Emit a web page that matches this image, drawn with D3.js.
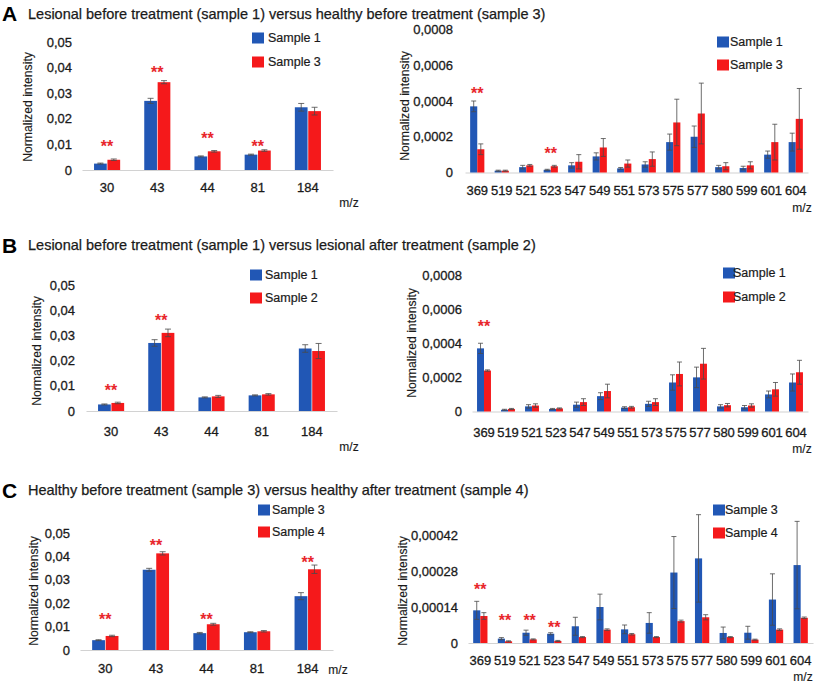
<!DOCTYPE html>
<html><head><meta charset="utf-8">
<script src="https://cdn.jsdelivr.net/npm/d3@7"></script>
<style>
body{margin:0;background:#fff}
svg{display:block}
text{font-family:"Liberation Sans",Arial,Helvetica,sans-serif;fill:#1a1a1a}
.thick{stroke:#1a1a1a;stroke-width:0.3px}
</style>
</head><body>
<svg id="chart" width="817" height="684"></svg>
<script>
// ---------------- DATA ----------------
const leftCategories = ["30","43","44","81","184"];
const rightCategories = ["369","519","521","523","547","549","551","573","575","577","580","599","601","604"];

const leftTickValues = [0,0.01,0.02,0.03,0.04,0.05];
const leftTickLabels = ["0","0,01","0,02","0,03","0,04","0,05"];
const rightTickValues = [0,0.0002,0.0004,0.0006,0.0008];
const rightTickLabels = ["0","0,0002","0,0004","0,0006","0,0008"];
const rightCTickValues = [0,0.00014,0.00028,0.00042];
const rightCTickLabels = ["0","0,00014","0,00028","0,00042"];

const titles = [
  "Lesional before treatment (sample 1) versus healthy before treatment (sample 3)",
  "Lesional before treatment (sample 1) versus lesional after treatment (sample 2)",
  "Healthy before treatment (sample 3) versus healthy after treatment (sample 4)"
];
const panelLetters = ["A","B","C"];
const legendA = ["Sample 1","Sample 3"];
const legendB = ["Sample 1","Sample 2"];
const legendC = ["Sample 3","Sample 4"];

// Panel A left
const aLeftS1 = [0.0025,0.027,0.0053,0.006,0.0245];
const aLeftS1Err = [0.0002,0.001,0.0002,0.0002,0.0015];
const aLeftS3 = [0.004,0.0343,0.0073,0.0076,0.023];
const aLeftS3Err = [0.0003,0.0006,0.0003,0.0003,0.0015];
const aLeftSig = [0.0105,0.0395,0.0135,0.0105,null];
// Panel A right
const aRightS1 = [0.00037,0.00001,0.00003,0.000015,0.00004,0.00009,0.000023,0.000045,0.00017,0.0002,0.00003,0.000025,0.0001,0.00017];
const aRightS1Err = [0.00003,0.000003,0.00001,0.000003,0.000015,0.00002,0.000005,0.000015,0.000045,0.00006,0.00001,0.00001,0.00002,0.00005];
const aRightS3 = [0.00013,0.00001,0.00004,0.000035,0.00006,0.00014,0.00005,0.000075,0.00028,0.00033,0.000035,0.00004,0.00017,0.0003];
const aRightS3Err = [0.00003,0.000003,0.000005,0.000005,0.00004,0.00005,0.00002,0.00004,0.00013,0.00017,0.00002,0.00002,0.0001,0.00017];
const aRightSig = [0.00046,null,null,0.000125,null,null,null,null,null,null,null,null,null,null];
// Panel B left
const bLeftS1 = [0.0026,0.027,0.0054,0.0062,0.0248];
const bLeftS1Err = [0.0002,0.0013,0.0002,0.0002,0.0015];
const bLeftS2 = [0.0032,0.031,0.0058,0.0066,0.0238];
const bLeftS2Err = [0.0003,0.0015,0.0004,0.0003,0.003];
const bLeftSig = [0.0096,0.0372,null,null,null];
// Panel B right
const bRightS1 = [0.00037,0.00001,0.00003,0.000015,0.00004,0.00009,0.000023,0.000045,0.00017,0.0002,0.00003,0.000025,0.0001,0.00017];
const bRightS1Err = [0.00003,0.000003,0.00001,0.000003,0.000015,0.00002,0.000005,0.000015,0.000045,0.00006,0.00001,0.00001,0.00002,0.00005];
const bRightS2 = [0.00024,0.000015,0.000035,0.000018,0.000055,0.00012,0.000025,0.000055,0.00022,0.00028,0.000037,0.000035,0.00013,0.00023];
const bRightS2Err = [0.000004,0.000003,0.00001,0.000003,0.00002,0.00004,0.000005,0.00002,0.00007,0.00009,0.00001,0.00001,0.00004,0.00007];
const bRightSig = [0.000517,null,null,null,null,null,null,null,null,null,null,null,null,null];
// Panel C left
const cLeftS3 = [0.0042,0.0343,0.0072,0.0076,0.023];
const cLeftS3Err = [0.0002,0.0006,0.0003,0.0002,0.0015];
const cLeftS4 = [0.006,0.0413,0.011,0.008,0.0345];
const cLeftS4Err = [0.0003,0.0007,0.0004,0.0003,0.0018];
const cLeftSig = [0.0145,0.0463,0.0145,null,0.0388];
// Panel C right
const cRightS3 = [0.000127,0.000017,0.00004,0.000036,0.000065,0.00014,0.000053,0.000078,0.000274,0.000329,0.000039,0.00004,0.000169,0.000303];
const cRightS3Err = [0.000035,0.000004,0.00001,0.000004,0.000035,0.00005,0.000017,0.00004,0.00014,0.00017,0.000023,0.000025,0.0001,0.00017];
const cRightS4 = [0.000105,0.0000065,0.000014,0.000008,0.000023,0.000052,0.000034,0.000023,0.000085,0.0001,0.000023,0.000013,0.000052,0.000098];
const cRightS4Err = [0.000013,0.000002,0.000002,0.000002,0.000002,0.000003,0.000003,0.000002,0.000004,0.00001,0.000002,0.000002,0.000003,0.000003];
const cRightSig = [0.00022,0.0001,0.0001,0.000074,null,null,null,null,null,null,null,null,null,null];

// ---------------- DRAWING ----------------
const BLUE = "#2157b5", RED = "#f5191b", STAR = "#e8262b";
const svg = d3.select("#chart");
const FONT = "'Liberation Sans',Arial,sans-serif";

function drawPanel(cfg, cats, s1, e1, s2, e2, sig, tickVals, tickLabs, legend) {
  const g = svg.append("g");
  const y = d3.scaleLinear().domain([0, cfg.topVal]).range([cfg.y0, cfg.yTop]);
  const x0 = d3.scaleBand().domain(cats).range(cfg.xr).paddingInner(cfg.pIn).paddingOuter(cfg.pIn/2);
  const x1 = d3.scaleBand().domain([0,1]).range([0, x0.bandwidth()]).paddingInner(cfg.gap);

  const ya = g.append("g").attr("transform", `translate(${cfg.xr[0]},0)`)
    .call(d3.axisLeft(y).tickValues(tickVals).tickFormat((d,i)=>tickLabs[i]).tickSize(0).tickPadding(cfg.yPad));
  ya.select(".domain").remove();
  ya.selectAll("text").attr("font-size", 13).style("font-family", FONT).attr("fill","#1a1a1a").attr("class","thick");

  const xa = g.append("g").attr("transform", `translate(0,${cfg.y0})`)
    .call(d3.axisBottom(x0).tickSize(0).tickPadding(cfg.xPad));
  xa.select(".domain").attr("stroke", "#d2d2d2").attr("stroke-width", 1.2);
  xa.selectAll("text").attr("font-size", 13).style("font-family", FONT).attr("fill","#1a1a1a").attr("class","thick");

  const series = [[s1,e1,BLUE],[s2,e2,RED]];
  series.forEach(([vals, errs, col], si) => {
    g.append("g").selectAll("rect").data(cats).join("rect")
      .attr("x", (c) => x0(c) + x1(si))
      .attr("width", x1.bandwidth())
      .attr("y", (c,i) => y(vals[i]))
      .attr("height", (c,i) => cfg.y0 - y(vals[i]))
      .attr("fill", col);
  });
  series.forEach(([vals, errs, col], si) => {
    const eg = g.append("g").attr("stroke", "#4a4a4a").attr("stroke-width", 1).attr("stroke-opacity", 0.8);
    cats.forEach((c,i) => {
      const cx = x0(c) + x1(si) + x1.bandwidth()/2;
      const yt = y(vals[i] + errs[i]), yb = y(Math.max(0, vals[i] - errs[i]));
      const hw = cfg.cap;
      eg.append("line").attr("x1",cx).attr("x2",cx).attr("y1",yt).attr("y2",yb);
      eg.append("line").attr("x1",cx-hw).attr("x2",cx+hw).attr("y1",yt).attr("y2",yt);
      eg.append("line").attr("x1",cx-hw).attr("x2",cx+hw).attr("y1",yb).attr("y2",yb);
    });
  });
  g.append("g").selectAll("text").data(cats.filter((c,i)=>sig[i]!=null)).join("text")
    .attr("x", c => x0(c) + x0.bandwidth()/2)
    .attr("y", c => y(sig[cats.indexOf(c)]) + 9)
    .attr("text-anchor","middle").attr("font-size",16).attr("font-weight","bold")
    .style("fill", STAR).text("**");

  g.append("text").attr("transform", `translate(${cfg.ylx},${cfg.yly}) rotate(-90)`)
    .attr("text-anchor","middle").attr("dominant-baseline","central").attr("font-size",12.2)
    .attr("class","thick").style("stroke-width","0.15px").text("Normalized intensity");

  g.append("text").attr("x", cfg.mz[0]).attr("y", cfg.mz[1]).attr("text-anchor","middle")
    .attr("dominant-baseline","central").attr("font-size",12).attr("class","thick").style("stroke-width","0.15px").text("m/z");

  legend.forEach((lab, i) => {
    const ly = cfg.leg[1][i];
    g.append("rect").attr("x", cfg.leg[0]).attr("y", ly-5.5).attr("width", 12).attr("height", 11)
      .attr("fill", i===0?BLUE:RED);
    g.append("text").attr("x", cfg.leg[2]).attr("y", ly).attr("dominant-baseline","central")
      .attr("font-size",12.5).attr("class","thick").style("stroke-width","0.2px").text(lab);
  });
}

function drawTitle(i, yc) {
  svg.append("text").attr("x", 2).attr("y", yc).attr("dominant-baseline","central")
    .attr("font-size", 21).attr("font-weight","bold").style("fill","#000").text(panelLetters[i]);
  svg.append("text").attr("x", 28).attr("y", yc).attr("dominant-baseline","central")
    .attr("font-size", 14.5).attr("class","thick").style("stroke-width","0.25px").text(titles[i]);
}

drawTitle(0, 13.5);
drawTitle(1, 245);
drawTitle(2, 490);

drawPanel({topVal:0.0008, y0:172.5, yTop:29.5, xr:[465,808], pIn:0.42, gap:0, cap:2.5, yPad:12, xPad:13,
  ylx:405, yly:106, mz:[802,208], leg:[717,[42,65],730]},
  rightCategories, aRightS1, aRightS1Err, aRightS3, aRightS3Err, aRightSig, rightTickValues, rightTickLabels, legendA);
drawPanel({topVal:0.05, y0:170, yTop:42, xr:[82,333], pIn:0.48, gap:0.05, cap:3, yPad:10, xPad:13,
  ylx:28, yly:107, mz:[349,203], leg:[252,[38,62],268]},
  leftCategories, aLeftS1, aLeftS1Err, aLeftS3, aLeftS3Err, aLeftSig, leftTickValues, leftTickLabels, legendA);

drawPanel({topVal:0.05, y0:411, yTop:285, xr:[86,337], pIn:0.48, gap:0.05, cap:3, yPad:11, xPad:16,
  ylx:37, yly:351, mz:[349,447], leg:[250,[275,298],265]},
  leftCategories, bLeftS1, bLeftS1Err, bLeftS2, bLeftS2Err, bLeftSig, leftTickValues, leftTickLabels, legendB);
drawPanel({topVal:0.0008, y0:411.5, yTop:275, xr:[472,808], pIn:0.42, gap:0, cap:2.5, yPad:10, xPad:16,
  ylx:412, yly:343, mz:[802,449], leg:[723,[273,297],733]},
  rightCategories, bRightS1, bRightS1Err, bRightS2, bRightS2Err, bRightSig, rightTickValues, rightTickLabels, legendB);

drawPanel({topVal:0.05, y0:650, yTop:533, xr:[80,333], pIn:0.48, gap:0.05, cap:3, yPad:10, xPad:14,
  ylx:34, yly:591, mz:[338,670], leg:[258,[510,532],272]},
  leftCategories, cLeftS3, cLeftS3Err, cLeftS4, cLeftS4Err, cLeftSig, leftTickValues, leftTickLabels, legendC);
drawPanel({topVal:0.00042, y0:643, yTop:535, xr:[468,813], pIn:0.42, gap:0, cap:2.5, yPad:10, xPad:13,
  ylx:403, yly:591, mz:[803,677], leg:[713,[510,533],725]},
  rightCategories, cRightS3, cRightS3Err, cRightS4, cRightS4Err, cRightSig, rightCTickValues, rightCTickLabels, legendC);
</script>
</body></html>
